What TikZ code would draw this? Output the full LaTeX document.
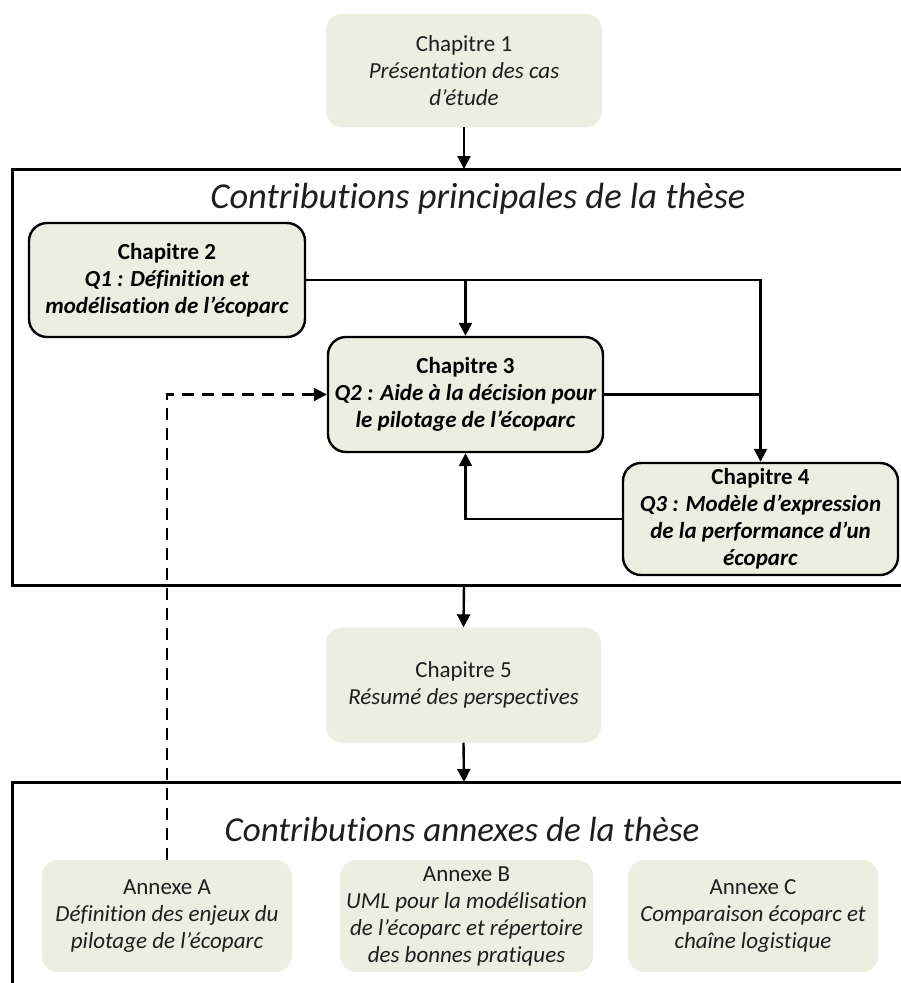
\documentclass[tikz,border=0pt]{standalone}
\usepackage{fontspec}
\setmainfont{Carlito}[Ligatures=NoCommon]
\usetikzlibrary{arrows.meta}
\definecolor{boxfill}{RGB}{235,238,224}
\definecolor{txt}{RGB}{30,30,30}
\tikzset{
  x=1pt, y=-1pt,
  plainbox/.style={fill=boxfill, rounded corners=16pt, align=center, inner sep=1pt, text=txt,
    font=\fontsize{23}{27}\selectfont},
  framedbox/.style={plainbox, draw=black, line width=2.4pt, rounded corners=18pt, text=black},
  arr/.style={line width=2.4pt, -{Triangle[length=13pt,width=13pt]}},
  conn/.style={line width=2.4pt},
  frameline/.style={line width=3pt},
  dashconn/.style={line width=2.4pt, dash pattern=on 12pt off 8pt, -{Triangle[length=13pt,width=13pt]}},
  titletext/.style={font=\fontsize{36.5}{42}\selectfont\itshape, text=txt}
}
\begin{document}
\begin{tikzpicture}
\useasboundingbox (0,0) rectangle (901,983);
% frames
\draw[frameline] (905,169) -- (12.5,169) -- (12.5,585) -- (905,585);
\draw[frameline] (905,782) -- (12.5,782) -- (12.5,990);
\node[titletext] (t1) at (478,199) {Contributions principales de la thèse};
\node[titletext, font=\fontsize{35}{42}\selectfont\itshape] (t2) at (462,829) {Contributions annexes de la thèse};
% boxes
\node[plainbox, minimum width=276pt, minimum height=113pt] (c1) at (464,70.5)
  {Chapitre 1\\\textit{Présentation des cas}\\\textit{d’étude}};
\node[framedbox, minimum width=276pt, minimum height=114pt] (c2) at (167,280)
  {\textbf{Chapitre 2}\\\textbf{\textit{Q1 : Définition et}}\\\textbf{\textit{modélisation de l’écoparc}}};
\node[framedbox, minimum width=275pt, minimum height=115pt] (c3) at (465.5,394.5)
  {\textbf{Chapitre 3}\\\textbf{\textit{Q2 : Aide à la décision pour}}\\\textbf{\textit{le pilotage de l’écoparc}}};
\node[framedbox, minimum width=275pt, minimum height=112pt, inner sep=0pt] (c4) at (760.5,519)
  {\textbf{Chapitre 4}\\\textbf{\textit{Q3 : Modèle d’expression}}\\\textbf{\textit{de la performance d’un}}\\\textbf{\textit{écoparc}}};
\node[plainbox, minimum width=275pt, minimum height=115pt] (c5) at (463.5,685)
  {Chapitre 5\\\textit{Résumé des perspectives}};
\node[plainbox, minimum width=250pt, minimum height=112pt] (aa) at (167,916)
  {Annexe A\\\textit{Définition des enjeux du}\\\textit{pilotage de l’écoparc}};
\node[plainbox, minimum width=253pt, minimum height=112pt, inner sep=0pt] (ab) at (466.5,916)
  {Annexe B\\\textit{UML pour la modélisation}\\\textit{de l’écoparc et répertoire}\\\textit{des bonnes pratiques}};
\node[plainbox, minimum width=250pt, minimum height=112pt] (ac) at (753,916)
  {Annexe C\\\textit{Comparaison écoparc et}\\\textit{chaîne logistique}};
% coordinates on frames
\coordinate (f1top) at (464,169);
\coordinate (f1bot) at (464,585);
\coordinate (f2top) at (464,782);
% connectors
\draw[arr] (c1.south) -- (f1top);
\draw[arr] (c2.east) -| (c4.north);
\draw[arr] (c2.east -| c3.north) -- (c3.north);
\draw[conn] (c3.east) -- (c3.east -| c4.north);
\draw[arr] (c4.west) -| (c3.south);
\draw[dashconn] (aa.north) |- (c3.west);
\draw[arr] (f1bot) -- (c5.north);
\draw[arr] (c5.south) -- (f2top);
\end{tikzpicture}
\end{document}
